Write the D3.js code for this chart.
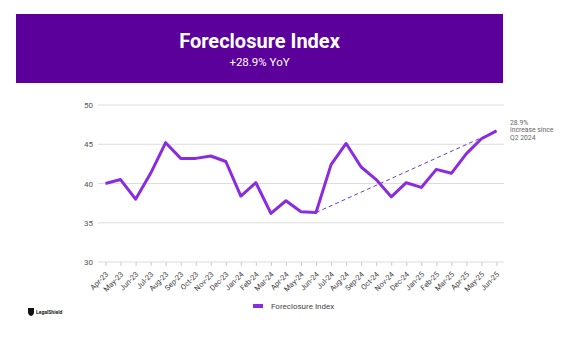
<!DOCTYPE html>
<html>
<head>
<meta charset="utf-8">
<script src="https://cdn.jsdelivr.net/npm/d3@7"></script>
<style>
  body { margin: 0; background: #fff; }
  svg { display: block; font-family: Roboto, "Noto Sans", sans-serif; }
</style>
</head>
<body>
<div id="chart"></div>
<script>
// monthly index values, Apr-23 .. Jun-25
const months = ["Apr-23","May-23","Jun-23","Jul-23","Aug-23","Sep-23","Oct-23","Nov-23","Dec-23",
  "Jan-24","Feb-24","Mar-24","Apr-24","May-24","Jun-24","Jul-24","Aug-24","Sep-24","Oct-24","Nov-24","Dec-24",
  "Jan-25","Feb-25","Mar-25","Apr-25","May-25","Jun-25"];
const values = [40.0, 40.5, 38.0, 41.3, 45.2, 43.2, 43.2, 43.5, 42.8,
  38.4, 40.1, 36.2, 37.8, 36.4, 36.3, 42.4, 45.1, 42.1, 40.5, 38.3, 40.1,
  39.5, 41.8, 41.3, 43.8, 45.7, 46.7];
const yTicks = [30, 35, 40, 45, 50];
const trendFrom = "Jun-24";
const trendTo = "Jun-25";
const noteLines = ["28.9%", "increase since", "Q2 2024"];

const W = 588, H = 340;
const purple = "#8a2be2";

const svg = d3.select('#chart').append('svg')
  .attr('width', W).attr('height', H);

// header banner
svg.append('rect')
  .attr('x', 16).attr('y', 14).attr('width', 487).attr('height', 69)
  .attr('fill', '#5c009c');
svg.append('text')
  .attr('x', 259.5).attr('y', 48).attr('text-anchor', 'middle')
  .attr('fill', '#fff').style('font-size', '20px').style('font-weight', 'bold')
  .text('Foreclosure Index');
svg.append('text')
  .attr('x', 259.5).attr('y', 66).attr('text-anchor', 'middle')
  .attr('fill', '#fff').style('font-size', '11.5px')
  .text('+28.9% YoY');

// scales
const x = d3.scalePoint().domain(months).range([98, 504]).padding(0.5);
const y = d3.scaleLinear().domain([30, 50]).range([262, 105]);

// gridlines + y labels
const gy = svg.append('g');
gy.selectAll('line').data(yTicks).enter().append('line')
  .attr('x1', 98).attr('x2', 504)
  .attr('y1', d => y(d)).attr('y2', d => y(d))
  .style('stroke', '#dcdcdc').style('stroke-width', 1);
gy.selectAll('text').data(yTicks).enter().append('text')
  .attr('x', 93).attr('y', d => y(d) + 3)
  .attr('text-anchor', 'end')
  .style('font-size', '8px').style('fill', '#555')
  .text(d => d);

// x axis
const xAxis = svg.append('g')
  .attr('transform', `translate(0,${y(30)})`)
  .call(d3.axisBottom(x).tickSize(4));
xAxis.select('.domain').remove();
xAxis.selectAll('.tick line').style('stroke', '#ccc');
xAxis.selectAll('.tick text')
  .style('font-size', '7.5px').style('fill', '#444')
  .style('font-family', 'Roboto, sans-serif')
  .attr('text-anchor', 'end')
  .attr('x', 0).attr('y', 0).attr('dy', '0.35em')
  .attr('transform', 'translate(1,11) rotate(-45)');

// dashed trend line
const iFrom = months.indexOf(trendFrom), iTo = months.indexOf(trendTo);
svg.append('line')
  .attr('x1', x(trendFrom)).attr('y1', y(values[iFrom]))
  .attr('x2', x(trendTo)).attr('y2', y(values[iTo]))
  .style('stroke', '#6a3cb8').style('stroke-width', 1)
  .style('stroke-dasharray', '4,3');

// main line
const line = d3.line().x((d, i) => x(months[i])).y(d => y(d));
svg.append('path')
  .datum(values)
  .attr('d', line)
  .style('fill', 'none').style('stroke', purple)
  .style('stroke-width', 3).style('stroke-linejoin', 'round');

// annotation
svg.append('text')
  .attr('x', 510).attr('y', 124.5)
  .style('font-size', '6.8px').style('fill', '#666')
  .selectAll('tspan').data(noteLines).enter().append('tspan')
  .attr('x', 510).attr('dy', (d, i) => i === 0 ? 0 : 7.7)
  .text(d => d);

// legend
svg.append('rect')
  .attr('x', 253).attr('y', 304).attr('width', 10).attr('height', 4)
  .attr('fill', purple);
svg.append('text')
  .attr('x', 271).attr('y', 309)
  .style('font-size', '8px').style('fill', '#444')
  .text('Foreclosure Index');

// logo
svg.append('path')
  .attr('d', 'M28,308 L34,308 L34,312 Q34,315 31,316 Q28,315 28,312 Z')
  .attr('fill', '#111');
svg.append('text')
  .attr('x', 36).attr('y', 314)
  .style('font-size', '5px').style('font-weight', 'bold').style('fill', '#222')
  .text('LegalShield');
</script>
</body>
</html>
